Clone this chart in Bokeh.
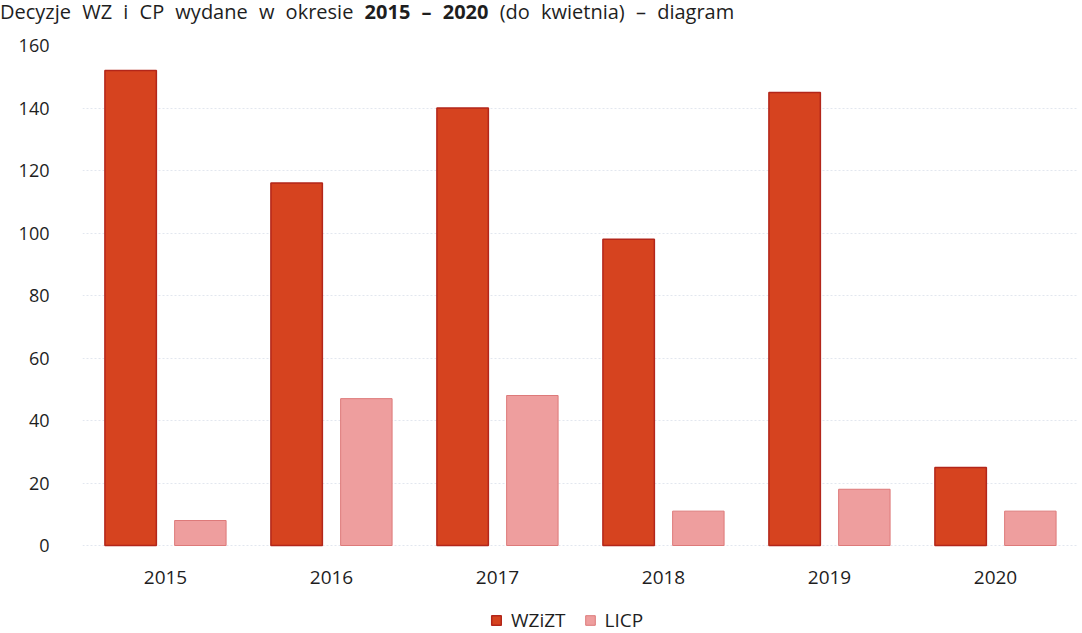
from bokeh.plotting import figure
from bokeh.models import FactorRange, Range1d, Legend, LegendItem, Div, ColumnDataSource
from bokeh.layouts import column
from bokeh.transform import dodge
from bokeh.embed import file_html
from bokeh.resources import INLINE

years = ["2015", "2016", "2017", "2018", "2019", "2020"]
wzizt = [152, 116, 140, 98, 145, 25]
licp = [8, 47, 48, 11, 18, 11]
y_ticks = [0, 20, 40, 60, 80, 100, 120, 140, 160]
series_names = ["WZiZT", "LICP"]
title_plain_1 = "Decyzje WZ i CP wydane w okresie "
title_bold = "2015 \u2013 2020"
title_plain_2 = " (do kwietnia) \u2013 diagram"

src = ColumnDataSource(data=dict(years=years, wzizt=wzizt, licp=licp))

FONT = "Open Sans"
TITLE_H = 24
FIG_H = 633 - TITLE_H
TOP = 45 - TITLE_H          # frame top inside the figure
PX_PER_UNIT = 500 / 160     # 0..160 spans 500 px
y_low = 160 - (FIG_H - TOP) / PX_PER_UNIT

title = Div(text=(f'<div style="font-family:\'{FONT}\';font-size:20px;color:#1e1e1e;'
                  f'line-height:24px;word-spacing:6px;white-space:nowrap;">{title_plain_1}'
                  f'<b>{title_bold}</b>{title_plain_2}</div>'),
            width=1082, height=TITLE_H, margin=(0, 0, 0, 0))

p = figure(width=1082, height=FIG_H, output_backend="svg", toolbar_location=None,
           x_range=FactorRange(factors=years, range_padding=0),
           y_range=Range1d(y_low, 160),
           min_border_left=82, min_border_right=4, min_border_top=TOP,
           min_border_bottom=0, margin=(0, 0, 0, 0))
p.outline_line_color = None
p.background_fill_color = "white"

r1 = p.vbar(x=dodge("years", -0.21, range=p.x_range), top="wzizt", bottom=0, width=0.31,
            source=src, fill_color="#d6431f", line_color="#b3261a", line_width=1.5)
r2 = p.vbar(x=dodge("years", 0.21, range=p.x_range), top="licp", bottom=0, width=0.31,
            source=src, fill_color="#ee9e9e", line_color="#dd7a7a", line_width=1)

p.yaxis.ticker = y_ticks
p.yaxis.axis_line_color = None
p.yaxis.major_tick_line_color = None
p.yaxis.minor_tick_line_color = None
p.yaxis.major_label_standoff = 27
p.yaxis.major_label_text_font = FONT
p.yaxis.major_label_text_font_size = "18px"
p.yaxis.major_label_text_color = "#1e1e1e"

p.xaxis.fixed_location = 0
p.xaxis.axis_line_color = None
p.xaxis.major_tick_line_color = None
p.xaxis.minor_tick_line_color = None
p.xaxis.major_label_standoff = 19
p.xaxis.major_label_text_font = FONT
p.xaxis.major_label_text_font_size = "19px"
p.xaxis.major_label_text_color = "#1e1e1e"

p.xgrid.grid_line_color = None
p.ygrid.grid_line_color = "#d6dde8"
p.ygrid.grid_line_dash = "2 2"
p.ygrid.grid_line_alpha = 0.7

legend = Legend(items=[LegendItem(label=series_names[0], renderers=[r1]),
                       LegendItem(label=series_names[1], renderers=[r2])],
                orientation="horizontal", location=(408, 0),
                label_text_font=FONT, label_text_font_size="19px", label_text_color="#1e1e1e",
                glyph_width=12, glyph_height=12, spacing=18, label_standoff=9,
                padding=0, margin=0, border_line_color=None, background_fill_alpha=0)
p.add_layout(legend, "center")

layout = column(title, p, spacing=0, margin=(0, 0, 0, 0))

open("out.html", "w").write(file_html(layout, INLINE))
